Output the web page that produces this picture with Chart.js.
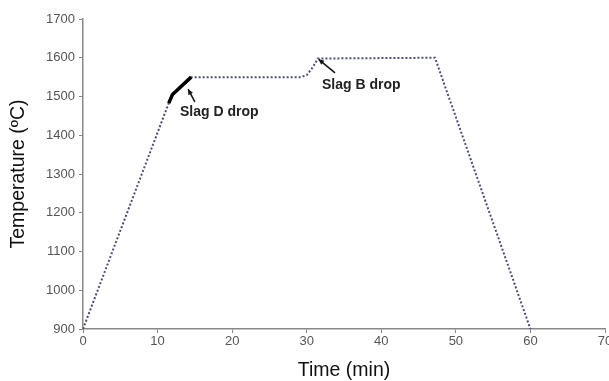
<!DOCTYPE html>
<html>
<head>
<meta charset="utf-8">
<script src="https://cdn.jsdelivr.net/npm/chart.js@4"></script>
<style>
	html, body { margin: 0; padding: 0; background: #fff; }
	#wrap { width: 609px; height: 381px; }
</style>
</head>
<body>
<div id="wrap"><canvas id="chart"></canvas></div>
<script>
// --- Data ---
const profileTime = [0, 11.5, 12.0, 14.5, 29.2, 30.0, 30.8, 31.5, 47.2, 60];
const profileTemp = [900, 1483, 1505, 1550, 1550, 1555, 1575, 1598, 1600, 900];
const dropTime = [11.5, 12.0, 14.5];
const dropTemp = [1483, 1505, 1550];
const xTicks = [0, 10, 20, 30, 40, 50, 60, 70];
const yTicks = [900, 1000, 1100, 1200, 1300, 1400, 1500, 1600, 1700];

// annotation labels: text, text anchor, arrow tail, arrow tip (data units)
const notes = [
	{ text: 'Slag D drop', at: [13.0, 1460], from: [15.0, 1486], to: [14.1, 1519] },
	{ text: 'Slag B drop', at: [32.05, 1530], from: [33.8, 1561], to: [31.6, 1596] }
];

const toPoints = (xs, ys) => xs.map((x, i) => ({ x: x, y: ys[i] }));

// --- Annotation plugin ---
const notesPlugin = {
	id: 'notes',
	afterDatasetsDraw(chart) {
		const ctx = chart.ctx;
		const xs = chart.scales.x, ys = chart.scales.y;
		ctx.save();
		notes.forEach(n => {
			const x1 = xs.getPixelForValue(n.from[0]), y1 = ys.getPixelForValue(n.from[1]);
			const x2 = xs.getPixelForValue(n.to[0]), y2 = ys.getPixelForValue(n.to[1]);
			ctx.strokeStyle = '#111';
			ctx.fillStyle = '#111';
			ctx.lineWidth = 1.5;
			ctx.beginPath();
			ctx.moveTo(x1, y1);
			ctx.lineTo(x2, y2);
			ctx.stroke();
			const a = Math.atan2(y2 - y1, x2 - x1);
			ctx.beginPath();
			ctx.moveTo(x2, y2);
			ctx.lineTo(x2 - 6 * Math.cos(a - 0.45), y2 - 6 * Math.sin(a - 0.45));
			ctx.lineTo(x2 - 6 * Math.cos(a + 0.45), y2 - 6 * Math.sin(a + 0.45));
			ctx.closePath();
			ctx.fill();
			ctx.font = 'bold 14px "Liberation Sans", Arial, sans-serif';
			ctx.textBaseline = 'middle';
			ctx.textAlign = 'left';
			ctx.fillStyle = '#222';
			ctx.fillText(n.text, xs.getPixelForValue(n.at[0]), ys.getPixelForValue(n.at[1]));
		});
		ctx.restore();
	}
};

const tickFont = { family: '"Liberation Sans", Arial, sans-serif', size: 13 };
const titleFont = { family: '"Liberation Sans", Arial, sans-serif', size: 19.5 };

new Chart(document.getElementById('chart'), {
	type: 'scatter',
	data: {
		datasets: [
			{
				data: toPoints(dropTime, dropTemp),
				showLine: true,
				borderColor: '#000',
				borderWidth: 3.5,
				pointRadius: 0
			},
			{
				data: toPoints(profileTime, profileTemp),
				showLine: true,
				borderColor: '#4c4c7c',
				borderWidth: 2,
				borderDash: [2, 2],
				pointRadius: 0,
				tension: 0
			}
		]
	},
	options: {
		responsive: true,
		maintainAspectRatio: false,
		animation: false,
		layout: { padding: { left: 7, right: 4, top: 19, bottom: 0 } },
		plugins: { legend: { display: false }, tooltip: { enabled: false } },
		scales: {
			x: {
				type: 'linear',
				min: 0, max: 70,
				afterBuildTicks: s => { s.ticks = xTicks.map(v => ({ value: v })); },
				afterFit: s => { s.height = 52; s.paddingLeft = 0; s.paddingRight = 0; },
				grid: { drawOnChartArea: false, tickLength: 4, color: '#888' },
				border: { color: '#888', width: 1.5 },
				ticks: { color: '#555', font: tickFont, padding: 1, maxRotation: 0, callback: v => String(v) },
				title: { display: true, text: 'Time (min)', color: '#111', font: titleFont, padding: { top: 0, bottom: -1 } }
			},
			y: {
				min: 900, max: 1700,
				afterBuildTicks: s => { s.ticks = yTicks.map(v => ({ value: v })); },
				afterFit: s => { s.width = 76; },
				grid: { drawOnChartArea: false, tickLength: 4, color: '#888' },
				border: { color: '#888', width: 1.5 },
				ticks: { color: '#555', font: tickFont, padding: 4, callback: v => String(v) },
				title: { display: true, text: 'Temperature (ºC)', color: '#111', font: titleFont, padding: 0 }
			}
		}
	},
	plugins: [notesPlugin]
});
</script>
</body>
</html>
